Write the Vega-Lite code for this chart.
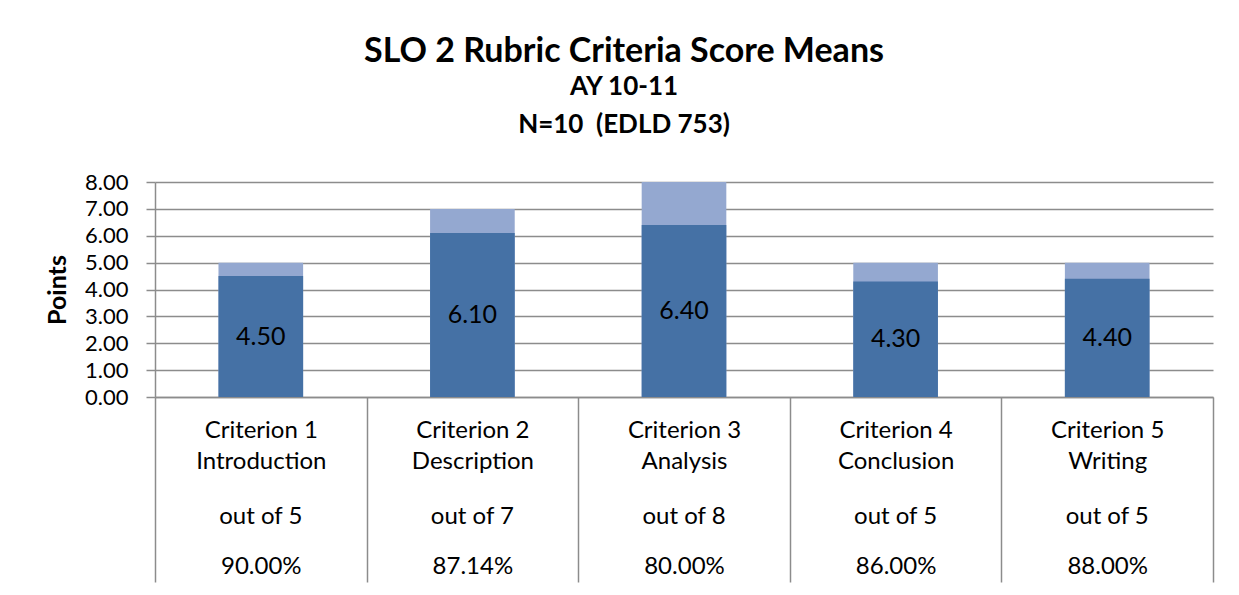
{
  "$schema": "https://vega.github.io/schema/vega-lite/v6.json",
  "autosize": "none",
  "width": 1058,
  "height": 215,
  "padding": {"left": 155, "top": 182, "right": 26, "bottom": 198},
  "background": "white",
  "config": {
    "font": "Lato",
    "view": {"stroke": null},
    "axis": {"labelColor": "black", "titleColor": "black", "labelFont": "Lato", "titleFont": "Lato"}
  },
  "title": {
    "text": "SLO 2 Rubric Criteria Score Means",
    "subtitle": ["AY 10-11", "N=10\u00a0 (EDLD 753)"],
    "fontSize": 34,
    "fontWeight": "bold",
    "color": "black",
    "subtitleFontSize": 26,
    "subtitleFontWeight": "bold",
    "subtitleColor": "black",
    "subtitleLineHeight": 38.5,
    "subtitlePadding": 5,
    "anchor": "middle",
    "dx": -60,
    "offset": 33
  },
  "data": {
    "values": [
      {"criterion": "Criterion 1|Introduction|out of 5|90.00%", "score": 4.5, "max": 5},
      {"criterion": "Criterion 2|Description|out of 7|87.14%", "score": 6.1, "max": 7},
      {"criterion": "Criterion 3|Analysis|out of 8|80.00%", "score": 6.4, "max": 8},
      {"criterion": "Criterion 4|Conclusion|out of 5|86.00%", "score": 4.3, "max": 5},
      {"criterion": "Criterion 5|Writing|out of 5|88.00%", "score": 4.4, "max": 5}
    ]
  },
  "resolve": {"scale": {"x": "independent"}, "axis": {"x": "independent"}},
  "layer": [
    {
      "mark": {"type": "bar", "color": "#94a8d0", "width": {"band": 0.4}},
      "encoding": {
        "x": {
          "field": "criterion",
          "type": "nominal",
          "sort": null,
          "scale": {"paddingInner": 0, "paddingOuter": 0},
          "axis": {
            "orient": "bottom",
            "title": null,
            "labelAngle": 0,
            "labelExpr": "slice(split(datum.label, '|'), 0, 2)",
            "labelFontSize": 24,
            "labelLineHeight": 31,
            "labelBaseline": "top",
            "labelPadding": -164,
            "tickBand": "extent",
            "tickSize": 185,
            "tickColor": "#8c8c8c",
            "tickWidth": 1.5,
            "domainColor": "#8c8c8c",
            "domainWidth": 1.5,
            "grid": false
          }
        },
        "y": {
          "field": "max",
          "type": "quantitative",
          "scale": {"domain": [0, 8]},
          "axis": {
            "title": "Points",
            "titleFontSize": 25,
            "titleFontWeight": "bold",
            "titlePadding": 14,
            "values": [0, 1, 2, 3, 4, 5, 6, 7, 8],
            "labelOverlap": false,
            "format": ".2f",
            "labelFontSize": 22,
            "labelPadding": 18,
            "tickSize": 9,
            "tickColor": "#8c8c8c",
            "tickWidth": 1.5,
            "domainColor": "#8c8c8c",
            "domainWidth": 1.5,
            "gridColor": "#8c8c8c",
            "gridWidth": 1.5
          }
        }
      }
    },
    {
      "mark": {"type": "bar", "color": "#4571a5", "width": {"band": 0.4}},
      "encoding": {
        "x": {
          "field": "criterion",
          "type": "nominal",
          "sort": null,
          "scale": {"paddingInner": 0, "paddingOuter": 0},
          "axis": {
            "orient": "bottom",
            "title": null,
            "labelAngle": 0,
            "labelExpr": "split(datum.label, '|')[2]",
            "labelFontSize": 24,
            "labelBaseline": "top",
            "labelPadding": 107,
            "ticks": false,
            "tickSize": 0,
            "domain": false,
            "grid": false
          }
        },
        "y": {
          "field": "score",
          "type": "quantitative",
          "axis": {
            "title": "Points",
            "titleFontSize": 25,
            "titleFontWeight": "bold",
            "titlePadding": 14,
            "values": [0, 1, 2, 3, 4, 5, 6, 7, 8],
            "labelOverlap": false,
            "format": ".2f",
            "labelFontSize": 22,
            "labelPadding": 18,
            "tickSize": 9,
            "tickColor": "#8c8c8c",
            "tickWidth": 1.5,
            "domainColor": "#8c8c8c",
            "domainWidth": 1.5,
            "gridColor": "#8c8c8c",
            "gridWidth": 1.5
          }
        }
      }
    },
    {
      "transform": [{"calculate": "datum.score / 2", "as": "mid"}],
      "mark": {"type": "text", "fontSize": 25, "color": "black", "baseline": "middle"},
      "encoding": {
        "x": {
          "field": "criterion",
          "type": "nominal",
          "sort": null,
          "scale": {"paddingInner": 0, "paddingOuter": 0},
          "axis": {
            "orient": "bottom",
            "title": null,
            "labelAngle": 0,
            "labelExpr": "split(datum.label, '|')[3]",
            "labelFontSize": 24,
            "labelBaseline": "top",
            "labelPadding": 157,
            "ticks": false,
            "tickSize": 0,
            "domain": false,
            "grid": false
          }
        },
        "y": {
          "field": "mid",
          "type": "quantitative",
          "axis": {
            "title": "Points",
            "titleFontSize": 25,
            "titleFontWeight": "bold",
            "titlePadding": 14,
            "values": [0, 1, 2, 3, 4, 5, 6, 7, 8],
            "labelOverlap": false,
            "format": ".2f",
            "labelFontSize": 22,
            "labelPadding": 18,
            "tickSize": 9,
            "tickColor": "#8c8c8c",
            "tickWidth": 1.5,
            "domainColor": "#8c8c8c",
            "domainWidth": 1.5,
            "gridColor": "#8c8c8c",
            "gridWidth": 1.5
          }
        },
        "text": {"field": "score", "type": "quantitative", "format": ".2f"}
      }
    }
  ]
}
